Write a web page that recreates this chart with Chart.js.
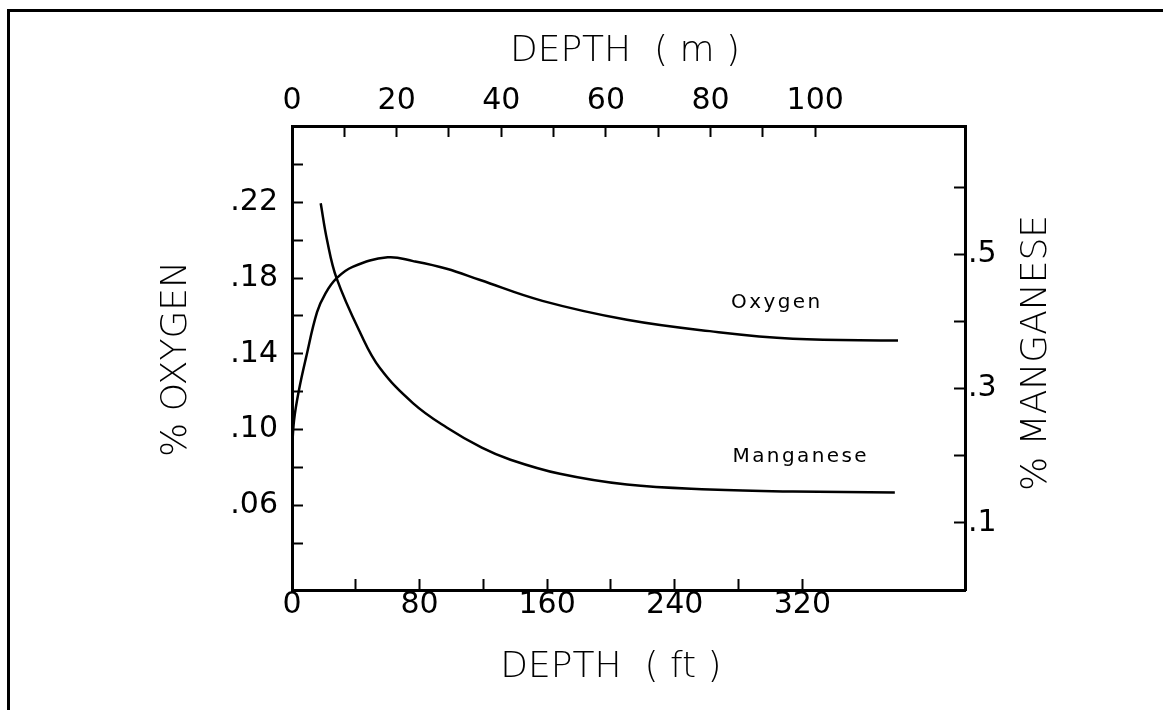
<!DOCTYPE html>
<html>
<head>
<meta charset="utf-8">
<script src="https://cdn.jsdelivr.net/npm/chart.js@4.4.1/dist/chart.umd.min.js"></script>
<style>
  html, body { margin: 0; padding: 0; background: #fff; }
  canvas { display: block; }
</style>
</head>
<body>
<canvas id="canvas" width="1163" height="710"></canvas>
<script>
  // oxygen profile: depth (ft) -> % oxygen, left axis
  var oxygenDepthFt = [0, 1.3, 4.4, 8.8, 15.7, 21, 28, 38, 60, 76, 97, 118, 157, 210, 262, 314, 380];
  var oxygenPct = [0.089, 0.105, 0.121, 0.138, 0.162, 0.172, 0.180, 0.186, 0.191, 0.189, 0.185, 0.179, 0.168, 0.158, 0.152, 0.148, 0.147];

  // manganese profile: depth (ft) -> % manganese, right axis
  var manganeseDepthFt = [18, 22, 28, 43, 55, 76, 97, 119, 137, 168, 210, 262, 314, 378];
  var manganesePct = [0.576, 0.521, 0.464, 0.382, 0.331, 0.278, 0.242, 0.212, 0.194, 0.173, 0.157, 0.1497, 0.1466, 0.1453];

  // tick marks, and the subset that gets a number
  var ftTicks = [40, 80, 120, 160, 200, 240, 280, 320, 400];
  var ftLabels = [0, 80, 160, 240, 320];
  var mTicks = [10, 20, 30, 40, 50, 60, 70, 80, 90, 100];
  var mLabels = [0, 20, 40, 60, 80, 100];
  var oxygenTicks = [0.04, 0.06, 0.08, 0.1, 0.12, 0.14, 0.16, 0.18, 0.2, 0.22, 0.24];
  var oxygenLabels = [0.06, 0.1, 0.14, 0.18, 0.22];
  var manganeseTicks = [0.1, 0.2, 0.3, 0.4, 0.5, 0.6];
  var manganeseLabels = [0.1, 0.3, 0.5];

  var topTitle = 'DEPTH  ( m )';
  var bottomTitle = 'DEPTH  ( ft )';
  var leftTitle = '% OXYGEN';
  var rightTitle = '% MANGANESE';

  var FT_PER_M = 3.2808;
  var ftMax = 422;

  const ctx = document.getElementById('canvas').getContext('2d');

  function points(xs, ys) {
    return xs.map(function(x, i) { return {x: x, y: ys[i]}; });
  }

  // ticks point inward, only the listed values get a mark
  function axisGrid(list) {
    return {
      display: true,
      drawOnChartArea: false,
      drawTicks: true,
      tickLength: -11,
      tickWidth: 2,
      tickColor: function(c) {
        return c.tick && list.indexOf(c.tick.value) >= 0 ? '#000' : 'rgba(0,0,0,0)';
      },
    };
  }
  const border = {display: true, color: '#000', width: 3};
  const tickFont = {family: 'DejaVu Sans', size: 30};

  function drawRotated(c, text, x, y) {
    c.save();
    c.translate(x, y);
    c.rotate(-Math.PI / 2);
    c.fillText(text, 0, 0);
    c.restore();
  }

  // frame, axis titles and curve names
  const figureText = {
    id: 'figureText',
    afterDraw(chart) {
      const c = chart.ctx, a = chart.chartArea, s = chart.scales;
      c.save();
      c.lineWidth = 3;
      c.strokeStyle = '#000';
      c.strokeRect(8.5, 10.5, 1400, 900);

      c.fillStyle = '#000';
      c.textAlign = 'center';
      c.textBaseline = 'middle';
      c.font = '200 36px "DejaVu Sans"';
      c.fillText(topTitle, a.left + 333, a.top - 74);
      c.fillText(bottomTitle, a.left + 319, a.bottom + 78);
      drawRotated(c, leftTitle, a.left - 115, a.top + 233);
      drawRotated(c, rightTitle, a.right + 72, a.top + 227);

      c.font = '20px "DejaVu Sans"';
      c.letterSpacing = '2.4px';
      c.fillText('Oxygen', s.x.getPixelForValue(304), s.y.getPixelForValue(0.167));
      c.fillText('Manganese', s.x.getPixelForValue(319), s.y2.getPixelForValue(0.1985));
      c.restore();
    }
  };

  const options = {
    responsive: false,
    animation: false,
    events: [],
    layout: {padding: 0},
    plugins: {
      legend: {display: false},
      tooltip: {enabled: false},
    },
    scales: {
      x: {
        type: 'linear',
        position: 'bottom',
        min: 0,
        max: ftMax,
        grid: axisGrid(ftTicks),
        border: border,
        ticks: {
          stepSize: 40,
          autoSkip: false,
          maxRotation: 0,
          padding: 8,
          color: '#000',
          font: tickFont,
          callback: function(v) { return ftLabels.indexOf(v) >= 0 ? String(v) : ''; },
        },
        afterFit: function(scale) { scale.height = 120; },
      },
      x2: {
        type: 'linear',
        position: 'top',
        min: 0,
        max: ftMax / FT_PER_M,
        grid: axisGrid(mTicks),
        border: border,
        ticks: {
          stepSize: 10,
          autoSkip: false,
          maxRotation: 0,
          padding: 18,
          color: '#000',
          font: tickFont,
          callback: function(v) { return mLabels.indexOf(v) >= 0 ? String(v) : ''; },
        },
        afterFit: function(scale) { scale.height = 126; },
      },
      y: {
        type: 'linear',
        position: 'left',
        min: 0.0152,
        max: 0.2604,
        grid: axisGrid(oxygenTicks),
        border: border,
        ticks: {
          stepSize: 0.02,
          includeBounds: false,
          autoSkip: false,
          padding: 25,
          color: '#000',
          font: tickFont,
          callback: function(v) { return oxygenLabels.indexOf(v) >= 0 ? v.toFixed(2).slice(1) : ''; },
        },
        afterFit: function(scale) { scale.width = 292; },
      },
      y2: {
        type: 'linear',
        position: 'right',
        min: 0,
        max: 0.691,
        grid: axisGrid(manganeseTicks),
        border: border,
        ticks: {
          stepSize: 0.1,
          includeBounds: false,
          autoSkip: false,
          padding: 14,
          color: '#000',
          font: tickFont,
          callback: function(v) { return manganeseLabels.indexOf(v) >= 0 ? v.toFixed(1).slice(1) : ''; },
        },
        afterFit: function(scale) { scale.width = 198; },
      },
    },
  };

  const config = {
    type: 'line',
    data: {
      datasets: [
        {
          label: 'Oxygen',
          data: points(oxygenDepthFt, oxygenPct),
          xAxisID: 'x',
          yAxisID: 'y',
          borderColor: '#000',
          borderWidth: 2.5,
          pointRadius: 0,
          fill: false,
          tension: 0.4,
        },
        {
          label: 'Manganese',
          data: points(manganeseDepthFt, manganesePct),
          xAxisID: 'x',
          yAxisID: 'y2',
          borderColor: '#000',
          borderWidth: 2.5,
          pointRadius: 0,
          fill: false,
          tension: 0.4,
        },
      ],
    },
    options: options,
    plugins: [figureText],
  };

  var chart = new Chart(ctx, config);
</script>
</body>
</html>
